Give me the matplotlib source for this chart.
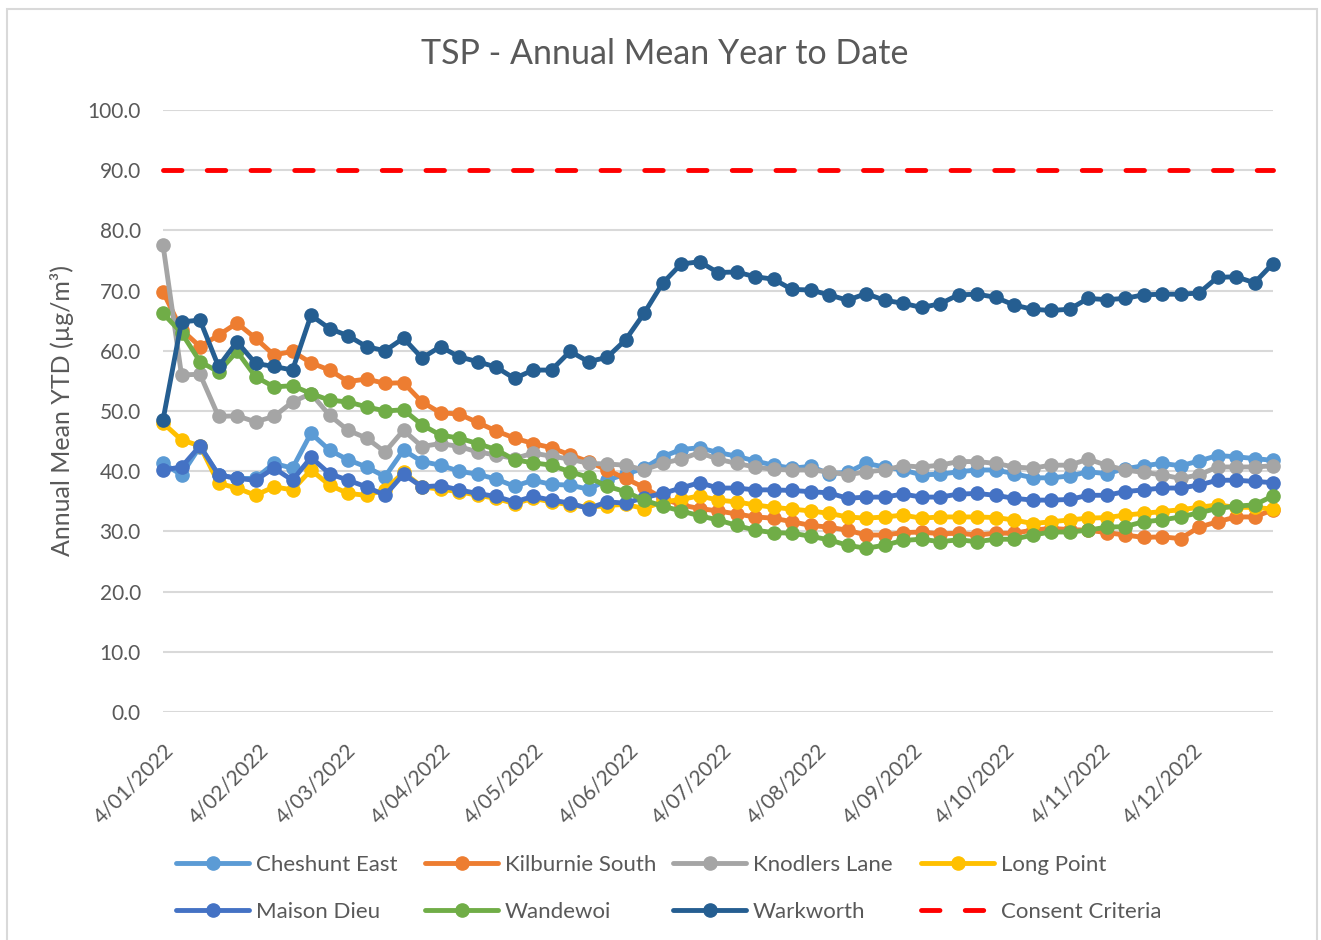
import numpy as np
import pandas as pd
import matplotlib
matplotlib.use("Agg")
import matplotlib.pyplot as plt
from matplotlib.lines import Line2D
from matplotlib.patches import Rectangle
from matplotlib.ticker import FormatStrFormatter

plt.rcParams['font.family'] = ['Lato', 'DejaVu Sans']

W, H = 1321, 940
TXT = '#595959'

# sampling: every 6 days from 4 Jan 2022
start_date = '2022-01-04'
n_samples = 61
sample_step = '6D'
dates = pd.date_range(start_date, periods=n_samples, freq=sample_step)

tick_dates = pd.date_range('2022-01-04', '2022-12-04', freq=pd.DateOffset(months=1))
tick_labels = [f"{d.day}/{d.month:02d}/{d.year}" for d in tick_dates]

cheshunt_east = [41.3, 39.4, 44.1, 39.4, 38.8, 38.8, 41.3, 40.5, 46.3, 43.5, 41.9, 40.7, 39.1, 43.5, 41.6, 41.0,
                 40.0, 39.5, 38.7, 37.5, 38.5, 37.8, 37.7, 37.0, 38.5, 39.5, 40.5,
                 42.4, 43.6, 43.9, 43.1, 42.5, 41.7, 41.0, 40.5, 40.8, 39.6, 39.8,
                 41.3, 40.7, 40.2, 39.4, 39.5, 39.9, 40.2, 40.2, 39.6, 38.9, 38.9,
                 39.2, 39.9, 39.6, 40.4, 40.9, 41.3, 40.9, 41.7, 42.6, 42.4, 42.1, 41.8]
kilburnie_south = [69.8, 63.5, 60.7, 62.6, 64.6, 62.1, 59.3, 59.9, 58.0, 56.8, 54.9, 55.3, 54.6, 54.7, 51.5, 49.7,
                   49.5, 48.1, 46.7, 45.5, 44.6, 43.9, 42.7, 41.6, 40.2, 38.8, 37.3,
                   35.5, 34.4, 33.8, 33.4, 32.9, 32.4, 32.2, 31.6, 31.0, 30.7, 30.2,
                   29.4, 29.4, 29.8, 29.9, 29.6, 29.7, 29.4, 29.7, 29.7, 30.2, 30.5,
                   30.3, 30.2, 29.8, 29.4, 29.0, 29.1, 28.8, 30.7, 31.6, 32.4, 32.4, 33.6]
knodlers_lane = [77.6, 56.0, 56.1, 49.1, 49.2, 48.2, 49.1, 51.5, 52.9, 49.3, 46.8, 45.5, 43.2, 46.8, 44.1, 44.6,
                 44.1, 43.2, 42.7, 42.1, 43.0, 42.5, 42.0, 41.3, 41.2, 41.0, 40.2,
                 41.3, 42.0, 43.1, 42.0, 41.3, 40.7, 40.3, 40.2, 40.2, 39.9, 39.4,
                 39.9, 40.2, 40.9, 40.7, 41.0, 41.6, 41.6, 41.3, 40.7, 40.5, 41.0,
                 41.0, 42.0, 41.0, 40.2, 39.8, 39.4, 38.8, 39.4, 40.7, 40.7, 40.7, 40.9]
long_point = [48.0, 45.2, 44.2, 38.0, 37.2, 36.0, 37.4, 36.9, 40.2, 37.7, 36.3, 36.0, 36.9, 39.8, 37.4, 37.0,
              36.6, 36.0, 35.5, 34.6, 35.5, 34.9, 34.4, 34.0, 34.3, 34.5, 33.8,
              34.9, 35.3, 35.9, 35.2, 34.9, 34.4, 34.0, 33.7, 33.4, 33.0, 32.4,
              32.2, 32.4, 32.7, 32.2, 32.4, 32.4, 32.4, 32.3, 31.9, 31.3, 31.6,
              31.9, 32.2, 32.3, 32.7, 33.0, 33.3, 33.6, 34.0, 34.4, 34.0, 34.0, 33.7]
maison_dieu = [40.2, 40.7, 44.2, 39.4, 38.8, 38.5, 40.5, 38.5, 42.3, 39.6, 38.5, 37.4, 36.0, 39.5, 37.4, 37.6,
               36.9, 36.3, 35.8, 34.9, 35.8, 35.2, 34.7, 33.8, 34.9, 34.7, 35.6,
               36.3, 37.2, 38.1, 37.2, 37.2, 36.9, 36.9, 36.8, 36.6, 36.4, 35.5,
               35.7, 35.7, 36.2, 35.7, 35.7, 36.2, 36.3, 36.0, 35.5, 35.2, 35.2,
               35.3, 36.0, 36.0, 36.6, 36.9, 37.2, 37.2, 37.7, 38.5, 38.5, 38.3, 38.1]
wandewoi = [66.2, 63.0, 58.2, 56.5, 59.9, 55.7, 54.0, 54.2, 52.9, 51.8, 51.5, 50.7, 50.0, 50.2, 47.7, 46.0,
            45.5, 44.6, 43.6, 41.9, 41.4, 41.0, 39.9, 39.0, 37.5, 36.6, 35.2,
            34.2, 33.4, 32.6, 31.9, 31.0, 30.2, 29.8, 29.7, 29.2, 28.6, 27.7,
            27.2, 27.7, 28.5, 28.7, 28.3, 28.6, 28.3, 28.7, 28.7, 29.4, 29.9,
            29.9, 30.2, 30.7, 30.8, 31.6, 31.9, 32.4, 33.1, 33.8, 34.2, 34.4, 35.9]
warkworth = [48.5, 64.8, 65.1, 57.4, 61.5, 57.9, 57.4, 56.8, 65.9, 63.7, 62.5, 60.7, 60.0, 62.1, 58.8, 60.7,
             59.0, 58.2, 57.3, 55.4, 56.8, 56.8, 59.9, 58.2, 58.9, 61.8, 66.2, 71.2, 74.4, 74.8,
             73.0, 73.1, 72.3, 71.9, 70.2, 70.1, 69.3, 68.4, 69.5, 68.4, 67.9, 67.2, 67.8, 69.3, 69.4,
             68.9, 67.6, 66.9, 66.7, 66.9, 68.7, 68.5, 68.7, 69.3, 69.4, 69.4, 69.6, 72.2, 72.3, 71.3, 74.5]
consent_criteria = 90.0

series_names = ['Cheshunt East', 'Kilburnie South', 'Knodlers Lane', 'Long Point',
                'Maison Dieu', 'Wandewoi', 'Warkworth']
series_values = [cheshunt_east, kilburnie_south, knodlers_lane, long_point,
                 maison_dieu, wandewoi, warkworth]
series_colors = ['#5B9BD5', '#ED7D31', '#A5A5A5', '#FFC000', '#4472C4', '#70AD47', '#255E91']
consent_color = '#FF0000'

LW = 3.5
MS = 9.5
DASH = (3.8, 5.2)

fig = plt.figure(figsize=(W / 100, H / 100), dpi=100)
ax = fig.add_axes([163 / W, 1 - 712 / H, 1110 / W, 602 / H])

handles = []
for name, vals, color in zip(series_names, series_values, series_colors):
    ax.plot(dates, vals, color=color, lw=LW, marker='o', ms=MS,
            solid_capstyle='round', solid_joinstyle='round', clip_on=False, zorder=3)
    handles.append(Line2D([], [], color=color, lw=LW, marker='o', ms=MS, solid_capstyle='round'))

ax.plot(dates, np.full(len(dates), consent_criteria), color=consent_color, lw=LW,
        dashes=DASH, dash_capstyle='round', clip_on=False, zorder=3)
handles.append(Line2D([], [], color=consent_color, lw=LW, dashes=DASH, dash_capstyle='round'))
legend_names = series_names + ['Consent Criteria']

ax.set_xlim(dates[0], dates[-1])
ax.set_ylim(0, 100)
ax.set_yticks(np.arange(0, 101, 10))
ax.yaxis.set_major_formatter(FormatStrFormatter('%.1f'))
ax.grid(axis='y', color='#D9D9D9', lw=1.5)
ax.set_axisbelow(True)
for sp in ax.spines.values():
    sp.set_visible(False)

ax.tick_params(axis='both', length=0, colors=TXT, labelsize=15)
ax.tick_params(axis='y', pad=16)
ax.tick_params(axis='x', pad=20)
ax.set_xticks(tick_dates)
ax.set_xticklabels(tick_labels, rotation=45, ha='right', va='top', rotation_mode='anchor')

ax.set_ylabel('Annual Mean YTD (µg/m³)', fontsize=18, color=TXT)
ax.yaxis.set_label_coords((74 - 163) / 1110, 0.5)

fig.text(665 / W, 1 - 54 / H, 'TSP - Annual Mean Year to Date', ha='center', va='center',
         fontsize=24.5, color=TXT)

# legend: 4 columns x 2 rows, placed like Excel
col_x = [176, 425, 673, 921]
row_y = [865, 912]
for k, (h, name) in enumerate(zip(handles, legend_names)):
    col, row = k % 4, k // 4
    fig.legend([h], [name], loc='center left',
               bbox_to_anchor=(col_x[col] / W, 1 - row_y[row] / H),
               frameon=False, borderpad=0, borderaxespad=0,
               handlelength=3.3, handletextpad=0.3, fontsize=16, labelcolor=TXT)

fig.patches.append(Rectangle((7 / W, -0.05), (1317 - 7) / W, 1.05 - 9 / H,
                             transform=fig.transFigure, fill=False,
                             edgecolor='#D9D9D9', lw=1.5))

fig.savefig('out.png', dpi=100, facecolor='white')
